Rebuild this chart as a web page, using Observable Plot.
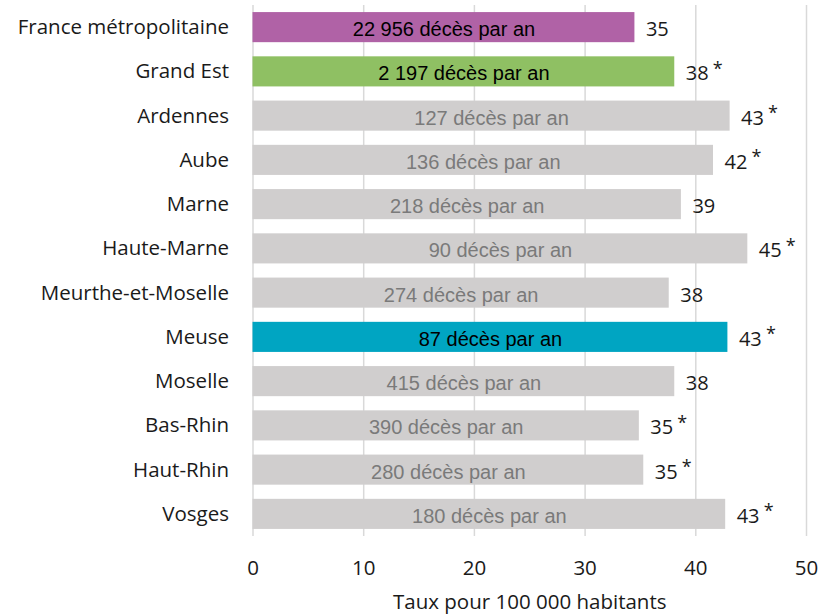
<!DOCTYPE html>
<html><head><meta charset="utf-8">
<script src="https://cdn.jsdelivr.net/npm/d3@7"></script>
<script src="https://cdn.jsdelivr.net/npm/@observablehq/plot@0.6"></script>
<style>body{margin:0;background:#fff}</style>
</head><body><div id="chart"></div>
<script>
const territories = ["France métropolitaine","Grand Est","Ardennes","Aube","Marne","Haute-Marne","Meurthe-et-Moselle","Meuse","Moselle","Bas-Rhin","Haut-Rhin","Vosges"];
const rates = [34.5, 38.1, 43.1, 41.6, 38.7, 44.7, 37.6, 42.9, 38.1, 34.9, 35.3, 42.7];
const rateLabels = ["35","38","43","42","39","45","38","43","38","35","35","43"];
const significant = [false,true,true,true,false,true,false,true,false,true,true,true];
const deathsPerYear = ["22 956","2 197","127","136","218","90","274","87","415","390","280","180"];
const groups = ["France","Région","Département","Département","Département","Département","Département","Zoom","Département","Département","Département","Département"];
const xTicks = [0,10,20,30,40,50];

const data = territories.map((t,i)=>({
  t, rate: rates[i], lab: rateLabels[i], star: significant[i] ? "*" : "",
  deaths: deathsPerYear[i] + " décès par an", group: groups[i]
}));

const chart = Plot.plot({
  width: 818, height: 614,
  marginLeft: 252.5, marginRight: 12, marginTop: 5, marginBottom: 78,
  style: {fontFamily: "'Open Sans', 'Noto Sans', sans-serif", fontSize: "20.5px", color: "#1a1a1a", background: "#fff"},
  x: {domain: [0,50], ticks: xTicks, tickSize: 0, tickPadding: 24, label: "Taux pour 100 000 habitants", labelAnchor: "center", labelArrow: "none", labelOffset: 72},
  y: {domain: territories, paddingInner: 0.32, paddingOuter: 0.16, round: false, tickSize: 0, tickPadding: 24, label: null},
  color: {domain: ["France","Région","Département","Zoom"], range: ["#b062a6","#8fc063","#d0cece","#00a5c2"]},
  marks: [
    Plot.ruleX(xTicks, {stroke: "#d9d9d9", strokeWidth: 1.5}),
    Plot.barX(data, {x: "rate", y: "t", fill: "group"}),
    Plot.text(data.filter(d => d.group !== "Département"), {x: d => d.rate/2, y: "t", text: "deaths", dy: 2, fill: "#000", fontFamily: "'Liberation Sans', Arial, sans-serif", fontSize: 20}),
    Plot.text(data.filter(d => d.group === "Département"), {x: d => d.rate/2, y: "t", text: "deaths", dy: 2, fill: "#7a7a7a", fontFamily: "'Liberation Sans', Arial, sans-serif", fontSize: 20}),
    Plot.text(data, {x: "rate", y: "t", text: "lab", dx: 11, dy: 2, textAnchor: "start", fontSize: 20, fill: "#1a1a1a"}),
    Plot.text(data, {x: "rate", y: "t", text: "star", dx: 38, dy: -3, textAnchor: "start", fontSize: 18, fill: "#1a1a1a"})
  ]
});
document.getElementById("chart").appendChild(chart);
</script>
</body></html>
